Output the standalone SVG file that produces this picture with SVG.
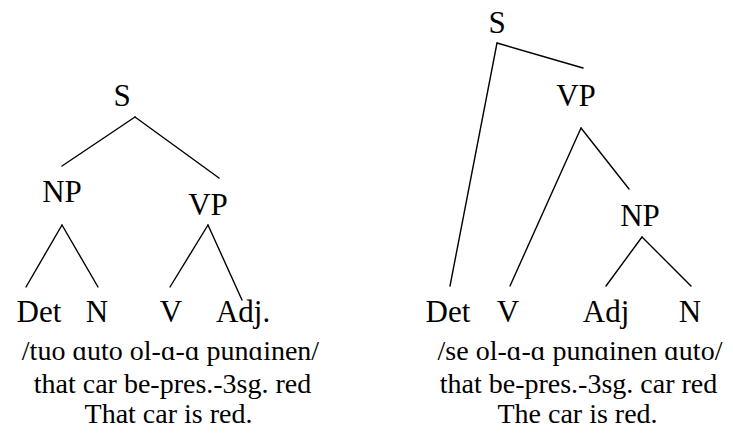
<svg xmlns="http://www.w3.org/2000/svg" width="733" height="436" viewBox="0 0 733 436">
<rect width="733" height="436" fill="#fff"/>
<g id="edges" stroke="#000" stroke-width="1.4" stroke-linecap="round">
<line x1="135" y1="117" x2="62" y2="166"/>
<line x1="135" y1="117" x2="219" y2="178"/>
<line x1="62" y1="225" x2="26" y2="287"/>
<line x1="62" y1="225" x2="98" y2="287"/>
<line x1="208" y1="225" x2="170" y2="287"/>
<line x1="208" y1="225" x2="242" y2="300"/>
<line x1="497" y1="43" x2="583" y2="68"/>
<line x1="497" y1="43" x2="450" y2="286"/>
<line x1="581" y1="128" x2="510" y2="286"/>
<line x1="581" y1="128" x2="629" y2="189"/>
<line x1="642" y1="237" x2="606" y2="286"/>
<line x1="642" y1="237" x2="691" y2="286"/>
</g>
<g id="L-S"><text x="122" y="106" font-family="Liberation Serif" font-size="31" text-anchor="middle">S</text></g>
<g id="L-NP"><text x="62" y="202" font-family="Liberation Serif" font-size="31" text-anchor="middle">NP</text></g>
<g id="L-VP"><text x="208" y="215" font-family="Liberation Serif" font-size="31" text-anchor="middle">VP</text></g>
<g id="L-Det"><text x="39" y="322" font-family="Liberation Serif" font-size="31" text-anchor="middle">Det</text></g>
<g id="L-N"><text x="97" y="322" font-family="Liberation Serif" font-size="31" text-anchor="middle">N</text></g>
<g id="L-V"><text x="171" y="322" font-family="Liberation Serif" font-size="31" text-anchor="middle">V</text></g>
<g id="L-Adj"><text x="243" y="322" font-family="Liberation Serif" font-size="31" text-anchor="middle">Adj.</text></g>
<g id="L-gloss">
<text x="170.5" y="360" font-family="Liberation Serif" font-size="28" text-anchor="middle">/tuo ɑuto ol-ɑ-ɑ punɑinen/</text>
<text x="172.5" y="393" font-family="Liberation Serif" font-size="28" text-anchor="middle">that car be-pres.-3sg. red</text>
<text x="168.5" y="423" font-family="Liberation Serif" font-size="28" text-anchor="middle">That car is red.</text>
</g>
<g id="R-S"><text x="497" y="33" font-family="Liberation Serif" font-size="31" text-anchor="middle">S</text></g>
<g id="R-VP"><text x="576" y="106" font-family="Liberation Serif" font-size="31" text-anchor="middle">VP</text></g>
<g id="R-NP"><text x="640" y="226" font-family="Liberation Serif" font-size="31" text-anchor="middle">NP</text></g>
<g id="R-Det"><text x="448" y="322" font-family="Liberation Serif" font-size="31" text-anchor="middle">Det</text></g>
<g id="R-V"><text x="508" y="322" font-family="Liberation Serif" font-size="31" text-anchor="middle">V</text></g>
<g id="R-Adj"><text x="606" y="322" font-family="Liberation Serif" font-size="31" text-anchor="middle">Adj</text></g>
<g id="R-N"><text x="690" y="322" font-family="Liberation Serif" font-size="31" text-anchor="middle">N</text></g>
<g id="R-gloss">
<text x="580" y="360" font-family="Liberation Serif" font-size="28" text-anchor="middle">/se ol-ɑ-ɑ punɑinen ɑuto/</text>
<text x="578.5" y="393" font-family="Liberation Serif" font-size="28" text-anchor="middle">that be-pres.-3sg. car red</text>
<text x="577.5" y="423" font-family="Liberation Serif" font-size="28" text-anchor="middle">The car is red.</text>
</g>
</svg>
